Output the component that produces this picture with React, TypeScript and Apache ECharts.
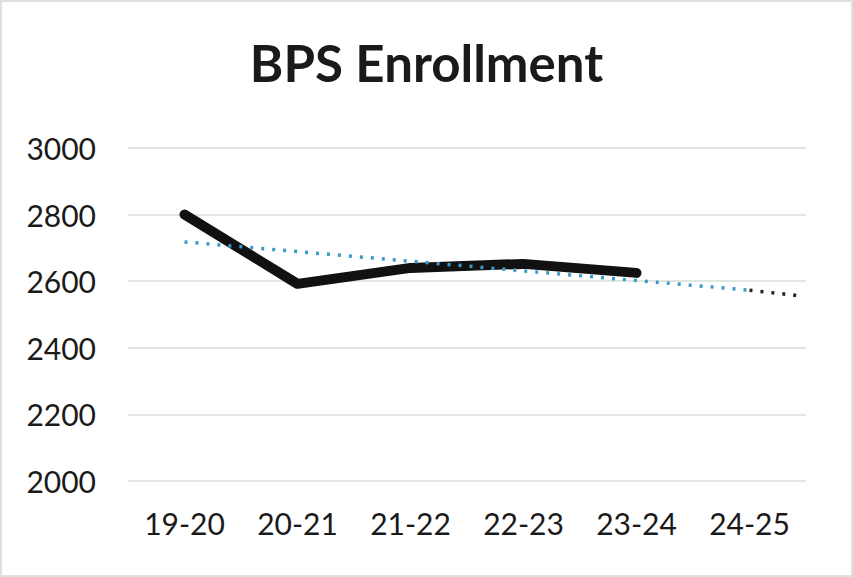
import React, { useEffect, useRef } from "react";
import * as echarts from "echarts";

const categories = ["19-20", "20-21", "21-22", "22-23", "23-24", "24-25"];
const enrollment = [2800, 2592, 2640, 2652, 2625];
const trendBlueX = [0, 5];
const trendBlueY = [2718, 2573];
const trendDarkX = [5, 5.45];
const trendDarkY = [2573, 2556];
const yTicks = [2000, 2200, 2400, 2600, 2800, 3000];

export default function App() {
  const ref = useRef<HTMLDivElement>(null);
  useEffect(() => {
    document.body.style.margin = "0";
    const chart = echarts.init(ref.current!, null, { renderer: "svg" });
    chart.setOption({
      animation: false,
      backgroundColor: "#ffffff",
      title: {
        text: "BPS Enrollment",
        left: "center",
        top: 30,
        textStyle: { fontFamily: "Lato", fontWeight: "bold", fontSize: 51, color: "#1a1a1a" },
      },
      grid: { left: 126, right: 45, top: 146, bottom: 94 },
      xAxis: [
        {
          type: "category",
          data: categories,
          boundaryGap: true,
          axisLine: { show: false },
          axisTick: { show: false },
          axisLabel: { fontFamily: "Lato", fontSize: 30, color: "#1a1a1a", margin: 27 },
        },
        {
          type: "value",
          min: -0.5,
          max: 5.5,
          show: false,
        },
      ],
      yAxis: {
        type: "value",
        min: yTicks[0],
        max: yTicks[yTicks.length - 1],
        interval: 200,
        axisLine: { show: false },
        axisTick: { show: false },
        splitLine: { lineStyle: { color: "#d6dfd6", width: 1.5 } },
        axisLabel: {
          fontFamily: "Lato",
          fontSize: 30,
          color: "#1a1a1a",
          margin: 32,
          formatter: (v: number) => String(v),
        },
      },
      series: [
        {
          type: "line",
          data: enrollment,
          xAxisIndex: 0,
          symbol: "none",
          lineStyle: { color: "#111111", width: 10, cap: "round", join: "round" },
          z: 2,
        },
        {
          type: "line",
          xAxisIndex: 1,
          data: trendBlueX.map((x, i) => [x, trendBlueY[i]]),
          symbol: "none",
          lineStyle: { color: "#3a9bc9", width: 3.5, type: [3, 8] },
          z: 3,
        },
        {
          type: "line",
          xAxisIndex: 1,
          data: trendDarkX.map((x, i) => [x, trendDarkY[i]]),
          symbol: "none",
          lineStyle: { color: "#222222", width: 3.5, type: [3, 8] },
          z: 3,
        },
      ],
    });
    return () => chart.dispose();
  }, []);
  return (
    <div
      ref={ref}
      style={{ width: 853, height: 577, boxSizing: "border-box", border: "2px solid #e0e0e0" }}
    />
  );
}
